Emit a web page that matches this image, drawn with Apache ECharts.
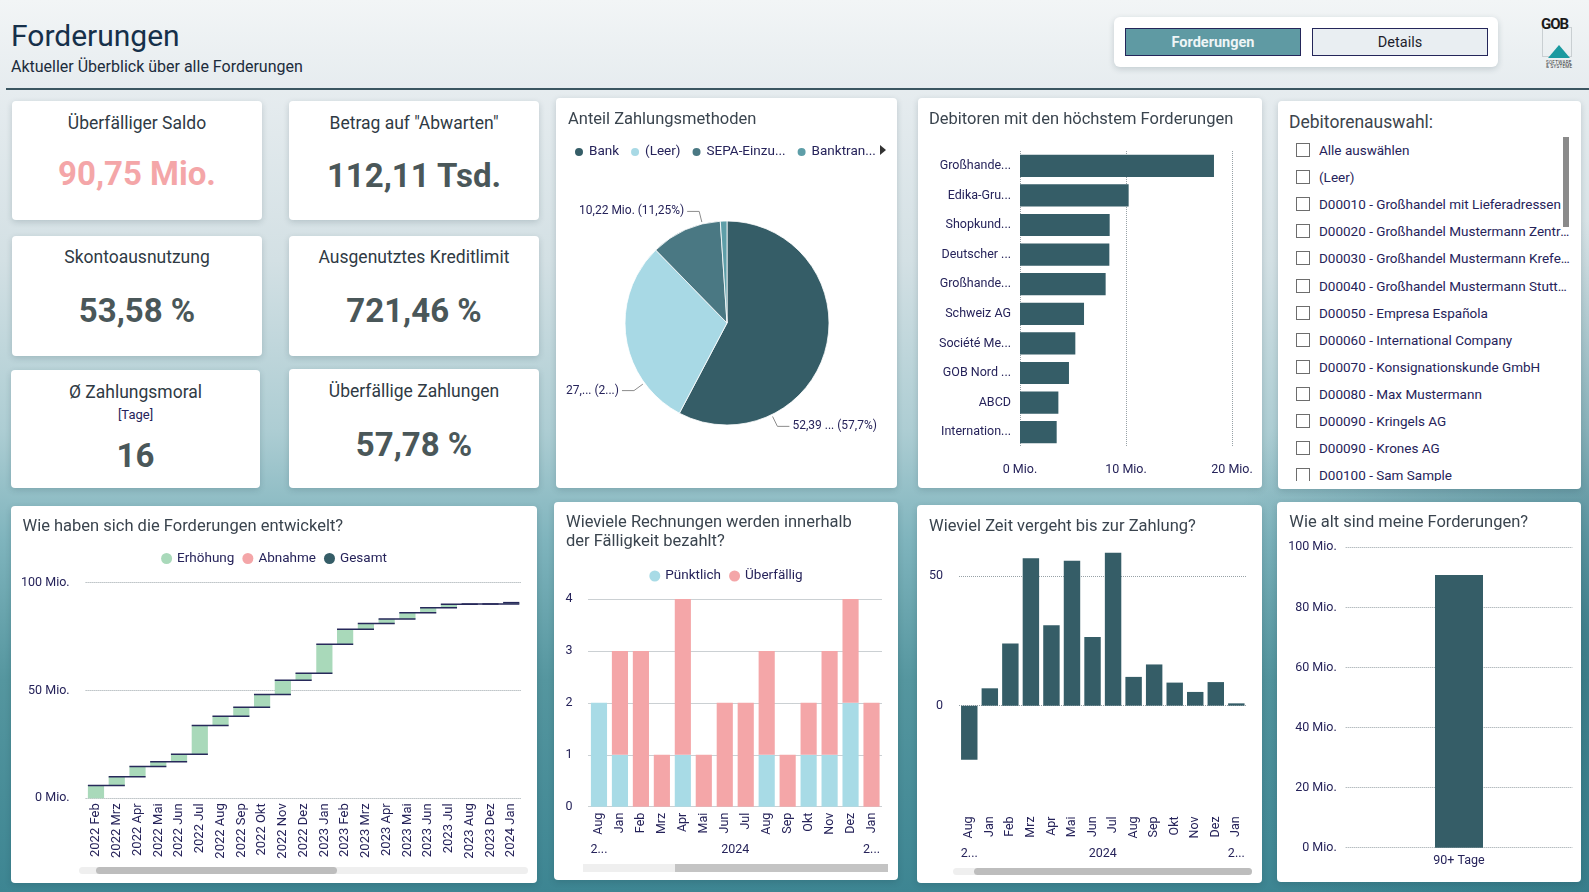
<!DOCTYPE html>
<html lang="de">
<head>
<meta charset="utf-8">
<title>Forderungen</title>
<script src="https://cdn.jsdelivr.net/npm/echarts@6/dist/echarts.min.js"></script>
<style>
html, body { margin: 0; padding: 0; }
body {
  width: 1589px; height: 892px; overflow: hidden; position: relative;
  font-family: Roboto, "Noto Sans", sans-serif;
  background:
    radial-gradient(ellipse 380px 420px at 1600px 640px, rgba(35,100,115,0.55), rgba(35,100,115,0)),
    linear-gradient(180deg, #f2f5f6 0px, #e6ecef 90px, #d3e0e4 260px, #adcdd3 430px, #7fb4bd 540px, #55969f 680px, #3d8592 892px);
}
.t { position: absolute; white-space: nowrap; line-height: 1.2; transform: translateY(-50%); }
.card { position: absolute; background: #fff; border-radius: 4px; box-shadow: 0 2px 6px rgba(20,50,60,0.18); overflow: hidden; }
.chart { position: absolute; left: 0; top: 0; width: 100%; height: 100%; }
.kt { left: 0; right: 0; text-align: center; font-size: 17.5px; color: #2f3a44; }
.kv { left: 0; right: 0; text-align: center; font-size: 33px; font-weight: 700; color: #4a5759; }
.btn { position: absolute; box-sizing: border-box; border: 1.5px solid #24265a; display: flex; align-items: center; justify-content: center; font-size: 14.5px; }
.box { position: absolute; width: 14px; height: 14px; box-sizing: border-box; border: 1px solid #6d6d6d; background: #fff; }
.item { position: absolute; font-size: 13.5px; color: #26235a; width: 251px; overflow: hidden; text-overflow: ellipsis; white-space: nowrap; line-height: 18px; }
.track { position: absolute; background: #efefef; border-radius: 4px; }
.thumb { position: absolute; background: #bdbdbd; border-radius: 4px; }
</style>
</head>
<body>

<!-- Kopfzeile -->
<div class="t" style="left:11px;top:36px;font-size:30px;color:#16304a;font-weight:400">Forderungen</div>
<div class="t" style="left:11px;top:67px;font-size:16px;color:#1c2c3c">Aktueller Überblick über alle Forderungen</div>
<div style="position:absolute;left:6px;right:0;top:88px;height:2px;background:#3b5661"></div>

<div class="card" style="left:1114px;top:17px;width:384px;height:50px;border-radius:6px"></div>
<div class="btn" style="left:1125px;top:28px;width:176px;height:28px;background:#5f9aa3;color:#eef5f6;font-weight:700">Forderungen</div>
<div class="btn" style="left:1312px;top:28px;width:176px;height:28px;background:#e9eef2;color:#1d1d2b">Details</div>

<div style="position:absolute;left:1542px;top:27px;width:28px;height:28px;border:1px solid #c9cfd2"></div>
<div class="t" style="left:1541px;top:24px;font-size:15px;font-weight:700;color:#1a1a1a;letter-spacing:-1px">GOB</div>
<svg style="position:absolute;left:1547px;top:44px" width="24" height="15"><polygon points="12,1 23,14 1,14" fill="#1b9aa0"/></svg>
<div class="t" style="left:1546px;top:62.5px;font-size:4.5px;color:#333;letter-spacing:0.3px">SOFTWARE</div>
<div class="t" style="left:1546px;top:66.5px;font-size:4.5px;color:#333;letter-spacing:0.3px">&amp; SYSTEME</div>

<div id="kpis"></div>

<div class="card" style="left:556px;top:98px;width:341px;height:390px"><div class="chart" id="pie"></div></div>
<div class="card" style="left:918px;top:98px;width:344px;height:390px"><div class="chart" id="deb"></div></div>

<div class="card" style="left:1278px;top:101px;width:303px;height:388px">
  <div class="t" style="left:11px;top:21px;font-size:17.5px;color:#3c444c">Debitorenauswahl:</div>
  <div id="liste" style="position:absolute;left:0;top:0;width:303px;height:380px;overflow:hidden"></div>
  <div style="position:absolute;left:285px;top:36px;width:6px;height:90px;background:#8a8a8a"></div>
</div>

<div class="card" style="left:11px;top:506px;width:526px;height:377px">
  <div class="chart" id="wf"></div>
  <div class="track" style="left:68px;top:361px;width:449px;height:7px"></div>
  <div class="thumb" style="left:85px;top:361px;width:241px;height:7px"></div>
</div>
<div class="card" style="left:554px;top:502px;width:344px;height:378px">
  <div class="chart" id="stk"></div>
  <div class="track" style="left:29px;top:362px;width:305px;height:8px;border-radius:0"></div>
  <div class="thumb" style="left:121px;top:362px;width:213px;height:8px;border-radius:0;background:#c4c4c4"></div>
</div>
<div class="card" style="left:917px;top:505px;width:345px;height:378px">
  <div class="chart" id="zeit"></div>
  <div class="track" style="left:36px;top:363px;width:299px;height:7px"></div>
  <div class="thumb" style="left:57px;top:363px;width:278px;height:7px"></div>
</div>
<div class="card" style="left:1277px;top:502px;width:304px;height:380px"><div class="chart" id="alter"></div></div>

<script>
// ---- Daten ----
const kpiTitles = ['Überfälliger Saldo', 'Betrag auf "Abwarten"', 'Skontoausnutzung', 'Ausgenutztes Kreditlimit', 'Ø Zahlungsmoral', 'Überfällige Zahlungen'];
const kpiValues = ['90,75 Mio.', '112,11 Tsd.', '53,58 %', '721,46 %', '16', '57,78 %'];

const zahlungsmethoden = ['Bank', '(Leer)', 'SEPA-Einzug', 'Banktransfer'];
const zahlungsLegende = ['Bank', '(Leer)', 'SEPA-Einzu...', 'Banktran...'];
const zahlungsBetrag = [52.39, 27.19, 10.22, 0.95]; // Mio.
const zahlungsLabels = ['52,39 ... (57,7%)', '27,... (2...)', '10,22 Mio. (11,25%)', ''];

const debitoren = ['Großhande...', 'Edika-Gru...', 'Shopkund...', 'Deutscher ...', 'Großhande...', 'Schweiz AG', 'Société Me...', 'GOB Nord ...', 'ABCD', 'Internation...'];
const debitorBetrag = [18.3, 10.25, 8.46, 8.43, 8.08, 6.04, 5.22, 4.62, 3.62, 3.46];

const debitorenAuswahl = ['Alle auswählen', '(Leer)', 'D00010 - Großhandel mit Lieferadressen', 'D00020 - Großhandel Mustermann Zentrale',
  'D00030 - Großhandel Mustermann Krefeld', 'D00040 - Großhandel Mustermann Stuttgart', 'D00050 - Empresa Española',
  'D00060 - International Company', 'D00070 - Konsignationskunde GmbH', 'D00080 - Max Mustermann', 'D00090 - Kringels AG',
  'D00090 - Krones AG', 'D00100 - Sam Sample'];

const monate = ['2022 Feb', '2022 Mrz', '2022 Apr', '2022 Mai', '2022 Jun', '2022 Jul', '2022 Aug', '2022 Sep', '2022 Okt', '2022 Nov', '2022 Dez',
  '2023 Jan', '2023 Feb', '2023 Mrz', '2023 Apr', '2023 Mai', '2023 Jun', '2023 Jul', '2023 Aug', '2023 Dez', '2024 Jan'];
const forderungenStand = [5.9, 10.0, 14.7, 17.0, 20.4, 33.8, 38.0, 42.2, 48.1, 54.7, 58.0, 71.4, 78.4, 81.1, 83.2, 86.1, 88.4, 90.0, 90.1, 90.15, 90.75];

const rechnungMonate = ['Aug', 'Jan', 'Feb', 'Mrz', 'Apr', 'Mai', 'Jun', 'Jul', 'Aug', 'Sep', 'Okt', 'Nov', 'Dez', 'Jan'];
const puenktlich = [2, 1, 0, 0, 1, 0, 0, 0, 1, 0, 1, 1, 2, 0];
const ueberfaellig = [0, 2, 3, 1, 3, 1, 2, 2, 2, 1, 1, 2, 2, 2];
const jahrLabels = ['2...', '2024', '2...'];
const jahrSpannen = [[0, 0], [1, 12], [13, 13]];

const zahlungsdauer = [-20.9, 6.7, 24.0, 56.9, 31.0, 55.9, 26.5, 59.0, 11.1, 15.9, 8.9, 5.3, 9.1, 0.9];

const altersKlassen = ['90+ Tage'];
const altersBetrag = [90.75];

// ---- Stil ----
const font = 'Roboto, "Noto Sans", sans-serif';
const navy = '#26235a';
const gridCol = '#97a1a6';
const dunkel = '#355d67';
const gruen = '#a9d9ba';
const rosa = '#f4a6a8';
const hellblau = '#a8dbe6';
const pieFarben = ['#355d67', '#a8d9e5', '#4a7883', '#5e9ea8'];
const pieLabelWinkel = [154, 234, 346];

// KPI Kacheln
const kpiLayout = [
  { box: [12, 101, 250, 119], title: 21.5, value: 72.5, color: rosa },
  { box: [289, 101, 250, 119], title: 21.5, value: 75 },
  { box: [12, 236, 250, 120], title: 21, value: 75 },
  { box: [289, 236, 250, 120], title: 21, value: 75 },
  { box: [11, 370, 249, 118], title: 21.5, value: 86, sub: 45 },
  { box: [289, 369, 250, 119], title: 22, value: 76 }
];
let html = '';
kpiLayout.forEach((k, i) => {
  const [x, y, w, h] = k.box;
  html += `<div class="card" style="left:${x}px;top:${y}px;width:${w}px;height:${h}px">` +
    `<div class="t kt" style="top:${k.title}px">${kpiTitles[i].replace(/"/g, '&quot;')}</div>` +
    (k.sub ? `<div class="t kt" style="top:${k.sub}px;font-size:13px;color:${navy}">[Tage]</div>` : '') +
    `<div class="t kv" style="top:${k.value}px;${k.color ? 'color:' + k.color : ''}">${kpiValues[i]}</div></div>`;
});
document.getElementById('kpis').innerHTML = html;

// Slicer
let li = '';
debitorenAuswahl.forEach((d, k) => {
  const c = 49 + k * 27.1;
  li += `<div class="box" style="left:18px;top:${c - 7}px"></div><div class="item" style="left:41px;top:${c - 9}px">${d}</div>`;
});
document.getElementById('liste').innerHTML = li;

function mk(id) { return echarts.init(document.getElementById(id), null, { renderer: 'canvas' }); }
function titel(text, x, yc, lh) {
  lh = lh || 20;
  return { text, left: x, top: yc - lh / 2, padding: 0,
    textStyle: { fontSize: 16.5, fontWeight: 'normal', color: '#3a444e', lineHeight: lh, fontFamily: font } };
}
const dotted = { lineStyle: { type: 'dotted', color: gridCol, width: 1 } };

// Anteil Zahlungsmethoden
const pieChart = mk('pie');
const pcx = 171, pcy = 225, pr = 102;
pieChart.setOption({
  animation: false,
  textStyle: { fontFamily: font },
  title: titel('Anteil Zahlungsmethoden', 12, 22),
  color: pieFarben,
  legend: { left: 12, top: 42, icon: 'circle', itemWidth: 10, itemHeight: 10, itemGap: 10, data: zahlungsmethoden,
    formatter: n => zahlungsLegende[zahlungsmethoden.indexOf(n)], textStyle: { fontSize: 13.5, color: navy } },
  series: [{
    type: 'pie', center: [pcx, pcy], radius: pr, startAngle: 90, clockwise: true,
    itemStyle: { borderColor: '#fff', borderWidth: 0.8 },
    label: { show: true, formatter: p => zahlungsLabels[p.dataIndex], fontSize: 12, color: navy, overflow: 'none' },
    labelLine: { show: true, lineStyle: { color: '#8c8c8c', width: 1 } },
    emphasis: { disabled: true },
    data: zahlungsmethoden.map((n, i) => zahlungsLabels[i]
      ? { name: n, value: zahlungsBetrag[i] }
      : { name: n, value: zahlungsBetrag[i], label: { show: false }, labelLine: { show: false } }),
    labelLayout: function (p) {
      const w = pieLabelWinkel[p.dataIndex];
      if (w === undefined) return {};
      const a = w * Math.PI / 180, s = Math.sin(a), c = Math.cos(a);
      const side = s > 0 ? 1 : -1;
      const e = [pcx + (pr + 2) * s, pcy - (pr + 2) * c];
      const m = [pcx + (pr + 13) * s, pcy - (pr + 13) * c];
      const end = [m[0] + side * 12, m[1]];
      return { x: end[0] + side * 3, y: end[1], align: side > 0 ? 'left' : 'right', verticalAlign: 'middle',
        width: 200, labelLinePoints: [e, m, end] };
    }
  }],
  graphic: [{ type: 'polygon', shape: { points: [[324, 47], [330, 52], [324, 57]] }, style: { fill: '#333' } }]
});

// Debitoren mit den höchsten Forderungen
const debChart = mk('deb');
debChart.setOption({
  animation: false,
  textStyle: { fontFamily: font },
  title: titel('Debitoren mit den höchstem Forderungen', 11, 22),
  grid: { left: 102, right: 30, top: 53, bottom: 41 },
  xAxis: { type: 'value', min: 0, max: 20, interval: 10,
    axisLabel: { formatter: '{value} Mio.', fontSize: 12.5, color: navy, margin: 16 },
    splitLine: dotted, axisLine: { show: false }, axisTick: { show: false } },
  yAxis: { type: 'category', inverse: true, data: debitoren,
    axisLabel: { fontSize: 12.5, color: navy, margin: 9 }, axisLine: { show: false }, axisTick: { show: false } },
  series: [{ type: 'bar', data: debitorBetrag, barCategoryGap: '25%', itemStyle: { color: dunkel } }]
});

// Wasserfall
const wfChart = mk('wf');
const basis = forderungenStand.map((v, i) => i ? forderungenStand[i - 1] : 0);
const aenderung = forderungenStand.map((v, i) => v - basis[i]);
const gap = 0.22;
wfChart.setOption({
  animation: false,
  textStyle: { fontFamily: font },
  title: titel('Wie haben sich die Forderungen entwickelt?', 11.5, 20.7),
  legend: { left: 'center', top: 40.5, icon: 'circle', itemWidth: 11, itemHeight: 11, itemGap: 8,
    data: ['Erhöhung', 'Abnahme', 'Gesamt'], textStyle: { fontSize: 13.5, color: navy } },
  grid: { left: 74.6, right: 15.4, top: 76.7, bottom: 84.7 },
  xAxis: { type: 'category', data: monate,
    axisLabel: { rotate: 90, interval: 0, fontSize: 13, color: navy, margin: 5 },
    axisLine: { show: false, onZero: false }, axisTick: { show: false } },
  yAxis: { type: 'value', min: 0, max: 100, interval: 50,
    axisLabel: { formatter: '{value} Mio.', fontSize: 12.5, color: navy, margin: 16 },
    splitLine: dotted },
  series: [
    { name: 'basis', type: 'bar', stack: 'w', silent: true, barCategoryGap: '22%',
      data: aenderung.map((d, i) => d >= 0 ? basis[i] : forderungenStand[i]), itemStyle: { color: 'rgba(0,0,0,0)' } },
    { name: 'Erhöhung', type: 'bar', stack: 'w', barCategoryGap: '22%',
      data: aenderung.map(d => d >= 0 ? d : '-'), itemStyle: { color: gruen } },
    { name: 'Abnahme', type: 'bar', stack: 'w', barCategoryGap: '22%',
      data: aenderung.map(d => d < 0 ? -d : '-'), itemStyle: { color: rosa } },
    { name: 'Gesamt', type: 'bar', stack: 'w', barCategoryGap: '22%',
      data: aenderung.map(() => '-'), itemStyle: { color: dunkel } },
    { name: 'verbinder', type: 'custom', silent: true, z: 5,
      data: forderungenStand.map((v, i) => [i, v]),
      renderItem: function (params, api) {
        const i = params.dataIndex;
        const band = api.size([1, 0])[0];
        const bw = band * (1 - gap);
        const p = api.coord([i, api.value(1)]);
        const x2 = i < forderungenStand.length - 1 ? api.coord([i + 1, 0])[0] + bw / 2 : p[0] + bw / 2;
        return { type: 'line', shape: { x1: p[0] - bw / 2, y1: p[1], x2: x2, y2: p[1] },
          style: { stroke: '#27295a', lineWidth: 1.5 } };
      } }
  ]
});

function jahrGrafik(chart, y) {
  return jahrLabels.map((t, k) => {
    const xa = chart.convertToPixel({ xAxisIndex: 0 }, jahrSpannen[k][0]);
    const xb = chart.convertToPixel({ xAxisIndex: 0 }, jahrSpannen[k][1]);
    return { type: 'text', x: (xa + xb) / 2, y: y,
      style: { text: t, fill: navy, fontSize: 12.5, fontFamily: font, align: 'center', verticalAlign: 'middle' } };
  });
}

// Pünktlich / Überfällig
const stkChart = mk('stk');
stkChart.setOption({
  animation: false,
  textStyle: { fontFamily: font },
  title: titel('Wieviele Rechnungen werden innerhalb\nder Fälligkeit bezahlt?', 12, 21.3, 18.4),
  legend: { left: 'center', top: 62, icon: 'circle', itemWidth: 11, itemHeight: 11, itemGap: 8,
    data: ['Pünktlich', 'Überfällig'], textStyle: { fontSize: 13.5, color: navy } },
  grid: { left: 34.5, right: 16, top: 97, bottom: 73.3 },
  xAxis: { type: 'category', data: rechnungMonate,
    axisLabel: { rotate: 90, interval: 0, fontSize: 12.5, color: navy, margin: 6 },
    axisLine: { show: false, onZero: false }, axisTick: { show: false } },
  yAxis: { type: 'value', min: 0, max: 4, interval: 1,
    axisLabel: { fontSize: 12.5, color: navy, margin: 16 }, splitLine: dotted },
  series: [
    { name: 'Pünktlich', type: 'bar', stack: 'a', data: puenktlich, barCategoryGap: '23%', itemStyle: { color: hellblau } },
    { name: 'Überfällig', type: 'bar', stack: 'a', data: ueberfaellig, barCategoryGap: '23%', itemStyle: { color: rosa } }
  ]
});
stkChart.setOption({ graphic: jahrGrafik(stkChart, 348) });

// Zeit bis zur Zahlung
const zeitChart = mk('zeit');
zeitChart.setOption({
  animation: false,
  textStyle: { fontFamily: font },
  title: titel('Wieviel Zeit vergeht bis zur Zahlung?', 12, 21.7),
  grid: { left: 42, right: 15.4, top: 45.1, bottom: 73.6 },
  xAxis: { type: 'category', data: rechnungMonate,
    axisLabel: { rotate: 90, interval: 0, fontSize: 12.5, color: navy, margin: 7 },
    axisLine: { show: false, onZero: false }, axisTick: { show: false } },
  yAxis: { type: 'value', min: -40, max: 60, interval: 10,
    axisLabel: { fontSize: 12.5, color: navy, margin: 16, formatter: v => (v === 0 || v === 50) ? String(v) : '' },
    splitLine: { show: false } },
  series: [{ type: 'bar', data: zahlungsdauer, barCategoryGap: '20%', itemStyle: { color: dunkel },
    markLine: { silent: true, symbol: 'none', label: { show: false }, z: 1,
      lineStyle: { type: 'dotted', color: gridCol, width: 1 }, data: [{ yAxis: 0 }, { yAxis: 50 }] } }]
});
zeitChart.setOption({ graphic: jahrGrafik(zeitChart, 349) });

// Alter der Forderungen
const alterChart = mk('alter');
alterChart.setOption({
  animation: false,
  textStyle: { fontFamily: font },
  title: titel('Wie alt sind meine Forderungen?', 12.3, 21.3),
  grid: { left: 68.7, right: 8.7, top: 45.3, bottom: 34.3 },
  xAxis: { type: 'category', data: altersKlassen,
    axisLabel: { fontSize: 12.5, color: navy, margin: 7 }, axisLine: { show: false }, axisTick: { show: false } },
  yAxis: { type: 'value', min: 0, max: 100, interval: 20,
    axisLabel: { formatter: '{value} Mio.', fontSize: 12.5, color: navy, margin: 9 }, splitLine: dotted },
  series: [{ type: 'bar', data: altersBetrag, barWidth: 48, itemStyle: { color: dunkel } }]
});
</script>
</body>
</html>
